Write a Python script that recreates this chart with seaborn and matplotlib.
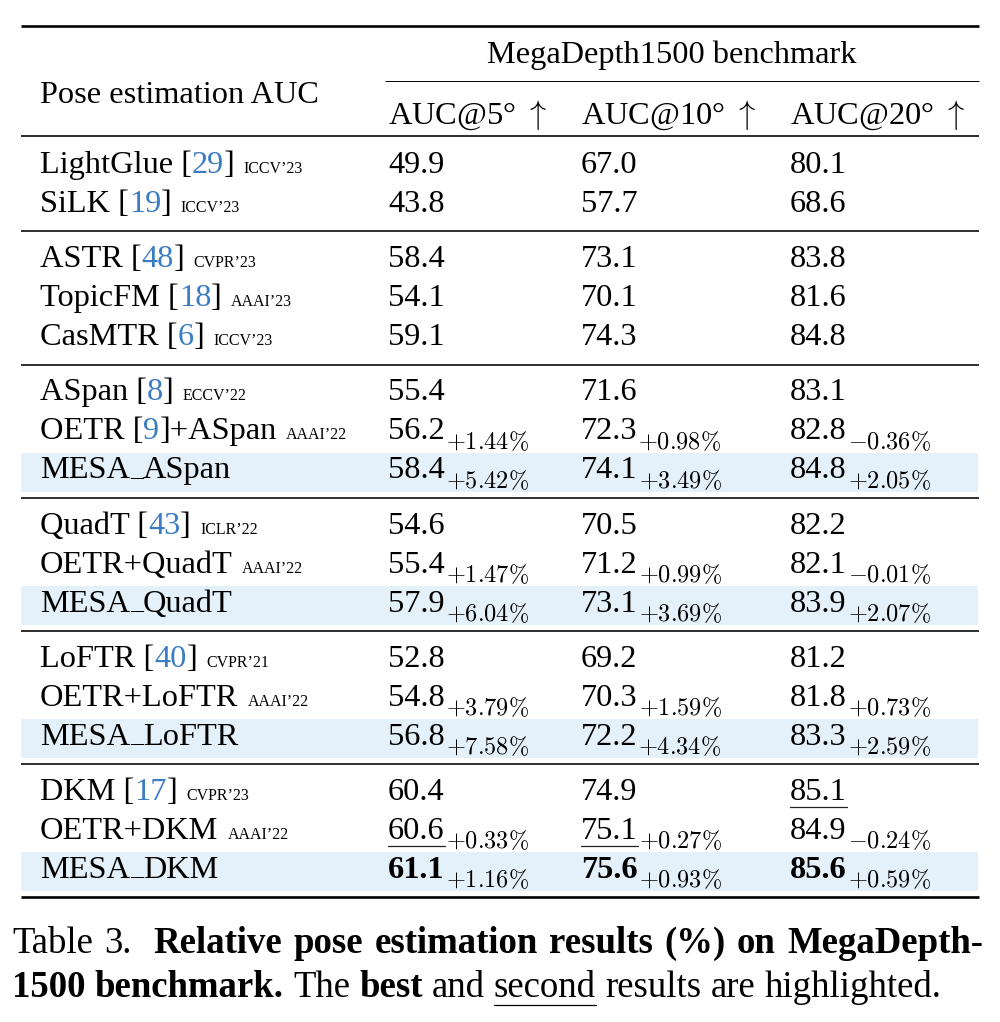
"""
MegaDepth1500 relative pose estimation table, drawn as a figure.
"""

import numpy as np
import pandas as pd
import seaborn as sns
import matplotlib.pyplot as plt

# Table data

Methods = ['LightGlue', 'SiLK', 'ASTR', 'TopicFM', 'CasMTR', 'ASpan', 'OETR', 'MESA_ASpan',
           'QuadT', 'OETR+QuadT', 'MESA_QuadT', 'LoFTR', 'OETR+LoFTR', 'MESA_LoFTR',
           'DKM', 'OETR+DKM', 'MESA_DKM']
Cites = ['29', '19', '48', '18', '6', '8', '9', '', '43', '', '', '40', '', '', '17', '', '']
Suffix = ['', '', '', '', '', '', '+ASpan', '', '', '', '', '', '', '', '', '', '']
Venues = ['ICCV’23', 'ICCV’23', 'CVPR’23', 'AAAI’23', 'ICCV’23', 'ECCV’22', 'AAAI’22', '',
          'ICLR’22', 'AAAI’22', '', 'CVPR’21', 'AAAI’22', '', 'CVPR’23', 'AAAI’22', '']
Groups = [0, 0, 1, 1, 1, 2, 2, 2, 3, 3, 3, 4, 4, 4, 5, 5, 5]

AUC5 = [49.9, 43.8, 58.4, 54.1, 59.1, 55.4, 56.2, 58.4, 54.6, 55.4, 57.9, 52.8, 54.8, 56.8, 60.4, 60.6, 61.1]
AUC10 = [67.0, 57.7, 73.1, 70.1, 74.3, 71.6, 72.3, 74.1, 70.5, 71.2, 73.1, 69.2, 70.3, 72.2, 74.9, 75.1, 75.6]
AUC20 = [80.1, 68.6, 83.8, 81.6, 84.8, 83.1, 82.8, 84.8, 82.2, 82.1, 83.9, 81.2, 81.8, 83.3, 85.1, 84.9, 85.6]

Gain5 = ['', '', '', '', '', '', '+1.44', '+5.42', '', '+1.47', '+6.04', '', '+3.79', '+7.58', '', '+0.33', '+1.16']
Gain10 = ['', '', '', '', '', '', '+0.98', '+3.49', '', '+0.99', '+3.69', '', '+1.59', '+4.34', '', '+0.27', '+0.93']
Gain20 = ['', '', '', '', '', '', '-0.36', '+2.05', '', '-0.01', '+2.07', '', '+0.73', '+2.59', '', '-0.24', '+0.59']

Mark5 = ['', '', '', '', '', '', '', '', '', '', '', '', '', '', '', 'second', 'best']
Mark10 = ['', '', '', '', '', '', '', '', '', '', '', '', '', '', '', 'second', 'best']
Mark20 = ['', '', '', '', '', '', '', '', '', '', '', '', '', '', 'second', '', 'best']

HeaderTitle = 'Pose estimation AUC'
HeaderBench = 'MegaDepth1500 benchmark'
HeaderCols = ['AUC@5° $\\uparrow$', 'AUC@10° $\\uparrow$', 'AUC@20° $\\uparrow$']

Caption1 = [('Table', 'r'), ('3.', 'r'), ('Relative', 'b'), ('pose', 'b'), ('estimation', 'b'),
            ('results', 'b'), ('(%)', 'b'), ('on', 'b'), ('MegaDepth-', 'b')]
Caption2 = [('1500', 'b'), ('benchmark.', 'b'), ('The', 'r'), ('best', 'b'), ('and', 'r'),
            ('second', 'u'), ('results', 'r'), ('are', 'r'), ('highlighted.', 'r')]

df = pd.DataFrame({'Method': Methods, 'Cite': Cites, 'Suffix': Suffix, 'Venue': Venues,
                   'Group': Groups, 'AUC5': AUC5, 'AUC10': AUC10, 'AUC20': AUC20,
                   'Gain5': Gain5, 'Gain10': Gain10, 'Gain20': Gain20,
                   'Mark5': Mark5, 'Mark10': Mark10, 'Mark20': Mark20})

# Style

sns.set_theme(style='white')
plt.rcParams['font.family'] = ['Liberation Serif', 'DejaVu Serif']
plt.rcParams['mathtext.fontset'] = 'cm'
plt.rcParams['text.color'] = 'black'

FS = 23.3        # table text
FS_VENUE = 11.5
FS_SUB = 17.5
FS_CAP = 26.5
BLUE = '#3b7dc4'
BAND = '#e4f1fa'

W, H = 1000, 1022
fig = plt.figure(figsize=(W / 100, H / 100), dpi=100)
ax = fig.add_axes([0, 0, 1, 1])
ax.set_xlim(0, W)
ax.set_ylim(H, 0)
ax.axis('off')
renderer = fig.canvas.get_renderer()
inv = ax.transData.inverted()

X_LEFT, X_RIGHT = 21, 979
X_NAME = 40
X_COLS = [388, 581, 790]


def right_edge(t):
    bb = t.get_window_extent(renderer)
    return inv.transform((bb.x1, bb.y0))[0]


def text_at(x, y, s, **kw):
    kw.setdefault('color', 'black')
    return ax.text(x, y, s, ha='left', va='baseline', **kw)


def hrule(y, x0=X_LEFT, x1=X_RIGHT, lw=1.15):
    ax.plot([x0, x1], [y, y], color='black', lw=lw, solid_capstyle='butt')


# Row positions from the grouping
df['y'] = 173 + 39 * np.arange(len(df)) + 16.2 * df['Group']

# Highlight bands for MESA rows
for _, r in df[df['Method'].str.startswith('MESA')].iterrows():
    ax.axhspan(r['y'] - 25.6, r['y'] + 13.4, xmin=X_LEFT / W, xmax=978 / W, color=BAND, lw=0, zorder=0)

# Header
hrule(25.7, lw=1.9)
text_at(672, 63, HeaderBench, fontsize=FS).set_ha('center')
hrule(81, x0=385, lw=0.7)
text_at(X_NAME, 102.7, HeaderTitle, fontsize=FS)
for x, s in zip(X_COLS, HeaderCols):
    text_at(x, 123.3, s, fontsize=FS)
hrule(136, lw=1.15)

# Body
for _, r in df.iterrows():
    y = r['y']
    x = X_NAME
    if r['Cite']:
        x = right_edge(text_at(x, y, r['Method'] + ' [', fontsize=FS))
        x = right_edge(text_at(x, y, r['Cite'], fontsize=FS, color=BLUE))
        x = right_edge(text_at(x, y, ']' + r['Suffix'], fontsize=FS))
    elif '_' in r['Method']:
        # LaTeX-style underscore sits on the baseline
        head, tail = r['Method'].split('_')
        x = right_edge(text_at(x, y, head, fontsize=FS))
        x = right_edge(text_at(x, y - 3.5, '_', fontsize=FS * 0.8))
        x = right_edge(text_at(x, y, tail, fontsize=FS))
    else:
        x = right_edge(text_at(x, y, r['Method'], fontsize=FS))
    if r['Venue']:
        text_at(x + 9, y, r['Venue'], fontsize=FS_VENUE)

    for cx, col in zip(X_COLS, ['5', '10', '20']):
        mark = r['Mark' + col]
        t = text_at(cx, y, '{:.1f}'.format(r['AUC' + col]), fontsize=FS,
                    fontweight='bold' if mark == 'best' else 'normal')
        x1 = right_edge(t)
        if mark == 'second':
            ax.plot([cx, x1], [y + 7, y + 7], color='#222222', lw=0.9)
        g = r['Gain' + col]
        if g:
            text_at(x1 + 1, y + 9.3, '$' + g + '\\%$', fontsize=FS_SUB)

# Group separators and bottom rule
last = df.groupby('Group')['y'].max()
for gy in last.values[:-1]:
    hrule(gy + 19.5, lw=1.15)
hrule(last.values[-1] + 19.3, lw=1.9)


# Caption
def caption_line(words, x0, y, x_end=None, space=9.2):
    objs = []
    for w, st in words:
        t = text_at(x0, y, w, fontsize=FS_CAP, fontweight='bold' if st == 'b' else 'normal')
        bb = t.get_window_extent(renderer)
        objs.append((t, bb.width, st))
    gaps = [space] * (len(words) - 1)
    if words[0][0] == 'Table':
        gaps[1] = space * 2.2
    if x_end is not None:
        natural = sum(o[1] for o in objs) + sum(gaps)
        extra = (x_end - x0 - natural) / len(gaps)
        gaps = [g + extra for g in gaps]
    x = x0
    for i, (t, wd, st) in enumerate(objs):
        t.set_x(x)
        if st == 'u':
            ax.plot([x, x + wd], [y + 8, y + 8], color='black', lw=0.9)
        x += wd + (gaps[i] if i < len(gaps) else 0)


caption_line(Caption1, 12, 953, x_end=983)
caption_line(Caption2, 12, 997)

plt.savefig('out.png', dpi=100, facecolor='white')
